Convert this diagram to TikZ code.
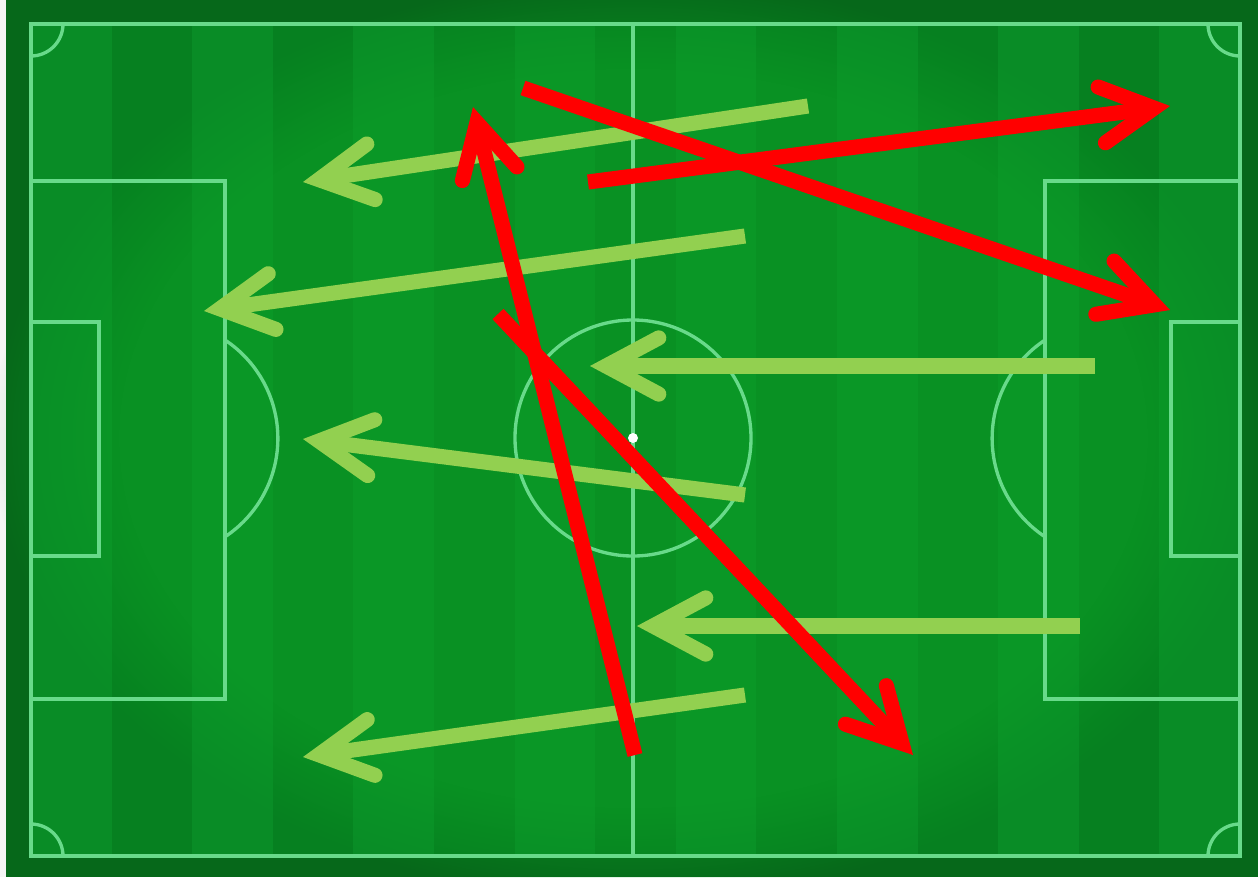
\documentclass[tikz,border=0pt]{standalone}
\usetikzlibrary{arrows.meta,fadings}

\definecolor{edgegreen}{RGB}{6,104,26}
\definecolor{grassdark}{RGB}{6,128,32}
\definecolor{grasslight}{RGB}{9,140,38}
\definecolor{grassglow}{RGB}{12,162,38}
\definecolor{chalk}{RGB}{104,218,138}
\definecolor{passgreen}{RGB}{146,208,80}
\definecolor{runred}{RGB}{255,0,0}

\begin{document}
\begin{tikzpicture}[x=0.02cm, y=-0.02cm,
  pitchline/.style={draw=chalk, line width=1.9pt},
  headtip/.style={-{Straight Barb[length=30pt, width=32pt, line cap=round, line join=miter]}},
  pass/.style={draw=passgreen, line width=8.6pt, headtip},
  run/.style={draw=runred, line width=8.6pt, headtip}]

\useasboundingbox (0,0) rectangle (1258,877);
\fill[white!92!gray] (0,0) rectangle (1258,877);
\fill[edgegreen] (6,0) rectangle (1258,877);

% mown stripes
\fill[grassdark] (31,24) rectangle (1240,856);
\foreach \i in {0,2,...,14}
  \fill[grasslight] ({31+80.6*\i},24) rectangle ({31+80.6*(\i+1)},856);
\fill[grassglow, fill opacity=0.5, path fading=circle with fuzzy edge 20 percent]
  (633,438) ellipse[x radius=640, y radius=460];

% markings
\draw[pitchline] (31,24) rectangle (1240,856);
\draw[pitchline] (633,24) -- (633,856);
\draw[pitchline] (633,438) circle[radius=118];
\fill[white] (633,438) circle[radius=5];
\draw[pitchline] (31,181) rectangle (225,699);
\draw[pitchline] (31,322) rectangle (99,556);
\draw[pitchline] (1240,181) rectangle (1045,699);
\draw[pitchline] (1240,322) rectangle (1171,556);
\draw[pitchline] (225,340) arc[start angle=-56.5, end angle=56.5, radius=118];
\draw[pitchline] (1045,340) arc[start angle=236.5, end angle=123.5, radius=118];
\draw[pitchline] (63,24) arc[start angle=0, end angle=90, radius=32];
\draw[pitchline] (31,824) arc[start angle=270, end angle=360, radius=32];
\draw[pitchline] (1208,24) arc[start angle=180, end angle=90, radius=32];
\draw[pitchline] (1240,824) arc[start angle=270, end angle=180, radius=32];

% passes
\coordinate (pass1a) at (808,106);  \coordinate (pass1b) at (303,182);
\coordinate (pass2a) at (745,236);  \coordinate (pass2b) at (204,311);
\coordinate (pass3a) at (1095,366); \coordinate (pass3b) at (590,366);
\coordinate (pass4a) at (745,495);  \coordinate (pass4b) at (303,439);
\coordinate (pass5a) at (1080,626); \coordinate (pass5b) at (637,626);
\coordinate (pass6a) at (745,695);  \coordinate (pass6b) at (303,757);
\foreach \p in {1,...,6}
  \draw[pass] (pass\p a) -- (pass\p b);

% runs
\coordinate (run1a) at (588,182); \coordinate (run1b) at (1170,106);
\coordinate (run2a) at (523,88);  \coordinate (run2b) at (1170,310);
\coordinate (run3a) at (635,755); \coordinate (run3b) at (473,107);
\coordinate (run4a) at (498,314); \coordinate (run4b) at (913,755);
\foreach \r in {1,...,4}
  \draw[run] (run\r a) -- (run\r b);
\end{tikzpicture}
\end{document}
